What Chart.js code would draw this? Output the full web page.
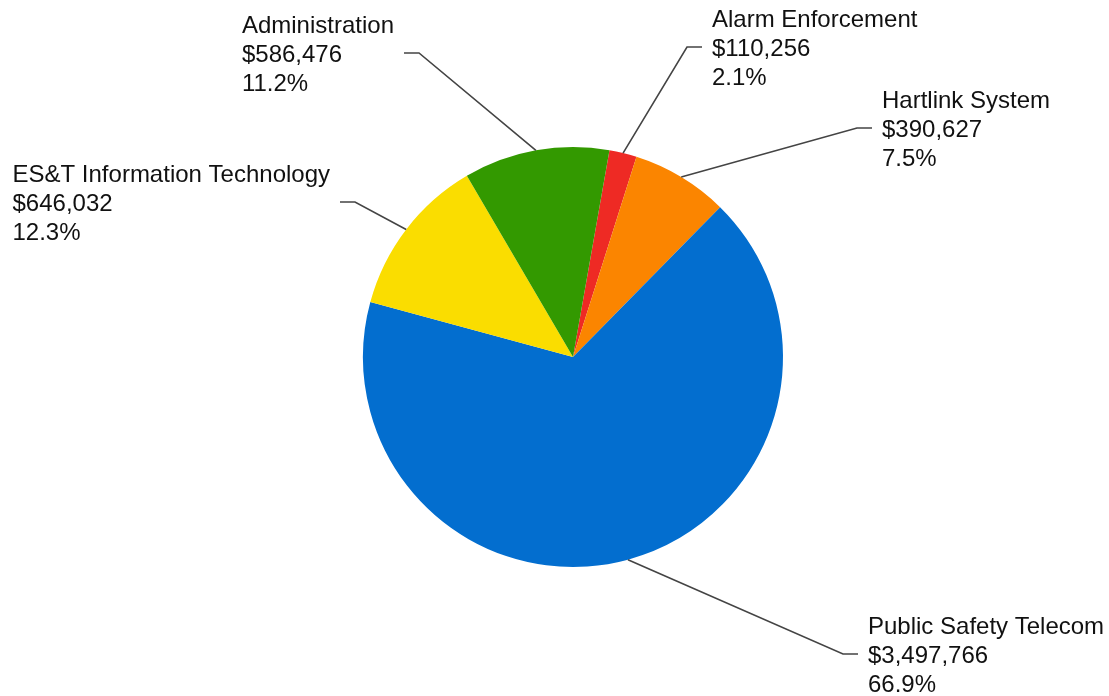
<!DOCTYPE html>
<html>
<head>
<meta charset="utf-8">
<script src="https://cdn.jsdelivr.net/npm/chart.js@4/dist/chart.umd.min.js"></script>
<style>
  html, body { margin: 0; padding: 0; background: #fff; }
  #wrap { width: 1109px; height: 696px; position: relative; }
</style>
</head>
<body>
<div id="wrap"><canvas id="pieChart" width="1109" height="696"></canvas></div>
<script>
// Budget by division
const divisions = ['Alarm Enforcement', 'Hartlink System', 'Public Safety Telecom', 'ES&T Information Technology', 'Administration'];
const amounts = [110256, 390627, 3497766, 646032, 586476];
const sliceColors = ['#ee2a24', '#fb8500', '#036ecf', '#fadd00', '#339900'];

// Elbow of each leader line, relative to the pie centre, and which side the text sits on
const labelElbows = [[114, -310], [284, -229], [270, 297], [-218, -155], [-154, -304]];
const labelSides = ['right', 'right', 'right', 'left', 'left'];

const total = amounts.reduce((a, b) => a + b, 0);

// Draws the callout labels with leader lines
const calloutPlugin = {
    id: 'callouts',
    afterDatasetsDraw(chart) {
        const ctx = chart.ctx;
        const arcs = chart.getDatasetMeta(0).data;
        ctx.save();
        ctx.font = '24px "Liberation Sans", Arial, sans-serif';
        ctx.textBaseline = 'alphabetic';
        arcs.forEach((arc, i) => {
            const p = arc.getProps(['x', 'y', 'startAngle', 'endAngle', 'outerRadius'], true);
            const mid = (p.startAngle + p.endAngle) / 2;
            const sx = p.x + Math.cos(mid) * p.outerRadius;
            const sy = p.y + Math.sin(mid) * p.outerRadius;
            const ex = p.x + labelElbows[i][0];
            const ey = p.y + labelElbows[i][1];
            const right = labelSides[i] === 'right';
            const endX = right ? ex + 15 : ex - 15;

            ctx.strokeStyle = '#444';
            ctx.lineWidth = 1.6;
            ctx.beginPath();
            ctx.moveTo(sx, sy);
            ctx.lineTo(ex, ey);
            ctx.lineTo(endX, ey);
            ctx.stroke();

            const lines = [
                divisions[i],
                '$' + amounts[i].toLocaleString('en-US'),
                (amounts[i] / total * 100).toFixed(1) + '%'
            ];
            const blockW = Math.max(...lines.map(t => ctx.measureText(t).width));
            const tx = right ? endX + 10 : endX - 10 - blockW;
            ctx.fillStyle = '#111';
            ctx.textAlign = 'left';
            lines.forEach((t, k) => {
                ctx.fillText(t, tx, ey + 9 + (k - 1) * 28.7);
            });
        });
        ctx.restore();
    }
};

const ctx = document.getElementById('pieChart').getContext('2d');
new Chart(ctx, {
    type: 'pie',
    data: {
        labels: divisions,
        datasets: [{
            data: amounts,
            backgroundColor: sliceColors,
            borderWidth: 0
        }]
    },
    options: {
        responsive: false,
        animation: false,
        rotation: 10,
        layout: {
            padding: { top: 147, bottom: 129, left: 363, right: 326 }
        },
        plugins: {
            legend: { display: false },
            tooltip: { enabled: false }
        }
    },
    plugins: [calloutPlugin]
});
</script>
</body>
</html>
